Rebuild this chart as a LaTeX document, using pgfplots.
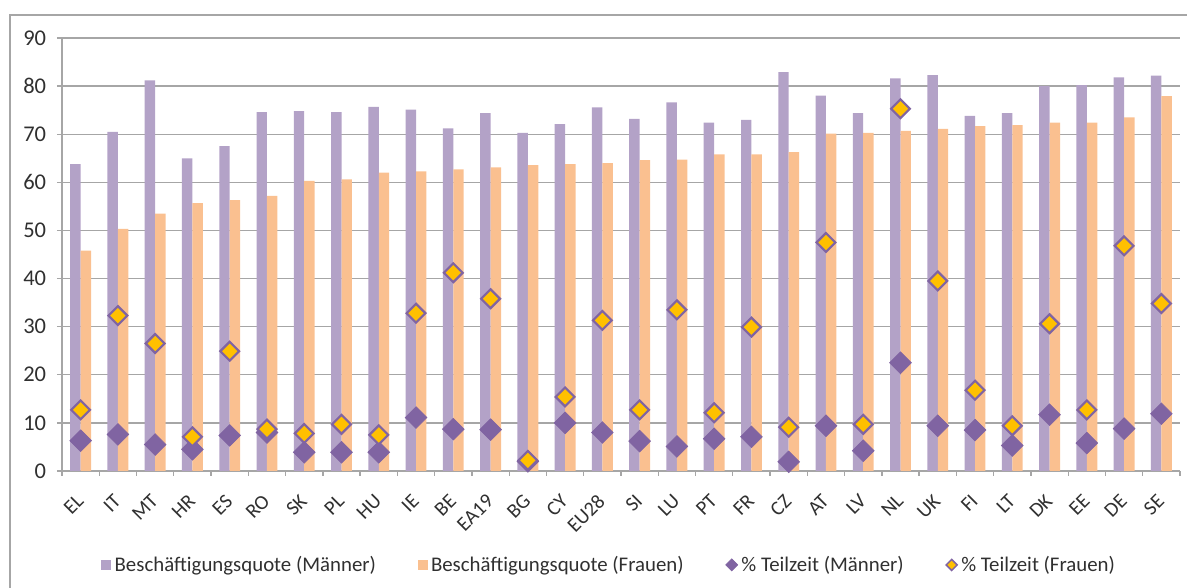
\documentclass[border=0pt]{standalone}
\usepackage{pgfplots}
\usepackage{pgfplotstable}
\pgfplotsset{compat=1.18}
\usepackage{fontspec}
\setmainfont{Carlito}
\usepackage{graphicx}

\definecolor{barM}{HTML}{B3A2C7}
\definecolor{barF}{HTML}{FAC090}
\definecolor{dmdM}{HTML}{8064A2}
\definecolor{dmdF}{HTML}{FFC000}
\definecolor{gridc}{HTML}{A6A6A6}
\definecolor{txt}{HTML}{303030}

\newcommand{\rl}[1]{\rotatebox{45}{#1}}

% x name men women ptm ptw
\pgfplotstableread{
x  name  men   women  ptm   ptw
0  EL    63.8  45.8   6.3   12.7
1  IT    70.5  50.3   7.6   32.3
2  MT    81.2  53.5   5.5   26.5
3  HR    65.0  55.7   4.5   7.1
4  ES    67.5  56.3   7.4   24.9
5  RO    74.6  57.2   8.0   8.7
6  SK    74.8  60.3   3.9   7.8
7  PL    74.6  60.6   3.9   9.7
8  HU    75.7  62.0   3.9   7.5
9  IE    75.1  62.3   11.1  32.8
10 BE    71.2  62.7   8.7   41.2
11 EA19  74.4  63.1   8.6   35.8
12 BG    70.3  63.6   2.0   2.2
13 CY    72.1  63.8   10.0  15.4
14 EU28  75.6  64.0   8.0   31.3
15 SI    73.2  64.6   6.2   12.7
16 LU    76.6  64.7   5.1   33.5
17 PT    72.4  65.8   6.7   12.1
18 FR    73.0  65.8   7.1   29.9
19 CZ    82.9  66.3   1.9   9.1
20 AT    78.0  70.1   9.4   47.5
21 LV    74.4  70.3   4.2   9.7
22 NL    81.6  70.7   22.5  75.3
23 UK    82.3  71.1   9.4   39.5
24 FI    73.8  71.7   8.5   16.8
25 LT    74.4  71.9   5.3   9.4
26 DK    80.0  72.4   11.7  30.6
27 EE    80.2  72.4   5.8   12.7
28 DE    81.8  73.5   8.8   46.8
29 SE    82.2  77.9   11.9  34.8
}\data

\begin{document}
\begin{tikzpicture}
\useasboundingbox (-37.2pt,-70.2pt) rectangle (675pt,282.6pt);
% outer frame (top and left edges visible)
\draw[gridc, line width=1.2pt] (-31.2pt,-80pt) -- (-31.2pt,273.6pt) -- (690pt,273.6pt);
\begin{axis}[
    name=ax,
    at={(0,0)}, anchor=south west,
    scale only axis,
    width=670.8pt, height=259.8pt,
    xmin=-0.5, xmax=29.5,
    ymin=0, ymax=90,
    ytick={0,10,...,90},
    xtick={0,...,29},
    xticklabels={\rl{EL},\rl{IT},\rl{MT},\rl{HR},\rl{ES},\rl{RO},\rl{SK},\rl{PL},
        \rl{HU},\rl{IE},\rl{BE},\rl{EA19},\rl{BG},\rl{CY},\rl{EU28},\rl{SI},
        \rl{LU},\rl{PT},\rl{FR},\rl{CZ},\rl{AT},\rl{LV},\rl{NL},\rl{UK},
        \rl{FI},\rl{LT},\rl{DK},\rl{EE},\rl{DE},\rl{SE}},
    minor xtick={-0.5,0.5,...,29.5},
    axis x line*=bottom,
    axis y line*=left,
    axis line style={gridc, line width=0.8pt, -},
    ymajorgrids,
    grid style={gridc, line width=0.8pt},
    major x tick style={draw=none},
    minor x tick style={gridc, line width=0.8pt},
    y tick style={gridc, line width=0.8pt},
    tick align=outside,
    major tick length=3pt,
    minor tick length=3pt,
    /pgf/number format/assume math mode=true,
    y tick label style={font=\fontsize{13.5}{15}\selectfont, text=txt, xshift=-3pt},
    x tick label style={font=\fontsize{12.2}{14}\selectfont, text=txt,
        anchor=north east, inner sep=0pt, xshift=2.6pt, yshift=-10.2pt},
    clip=false,
    legend style={at={(0.49,-0.217)}, anchor=center, draw=none, fill=none,
        legend columns=4, font=\fontsize{12.5}{14}\selectfont, text=txt,
        /tikz/every even column/.append style={column sep=23pt},
        cells={anchor=west}},
]
\addplot[ybar, bar width=0.28, bar shift=-0.14, fill=barM, draw=none,
    legend image code/.code={\fill[barM] (0pt,-3pt) rectangle (6pt,3pt);}]
    table[x=x, y=men] {\data};
\addlegendentry{Beschäftigungsquote (Männer)}
\addplot[ybar, bar width=0.28, bar shift=0.14, fill=barF, draw=none,
    legend image code/.code={\fill[barF] (0pt,-3pt) rectangle (6pt,3pt);}]
    table[x=x, y=women] {\data};
\addlegendentry{Beschäftigungsquote (Frauen)}
\addplot[only marks, mark=square*, mark size=4.6pt,
    mark options={rotate=45, fill=dmdM, draw=dmdM},
    legend image code/.code={\fill[dmdM] (0pt,0pt) -- (3.6pt,3.6pt)
        -- (7.2pt,0pt) -- (3.6pt,-3.6pt) -- cycle;}]
    table[x=x, y=ptm] {\data};
\addlegendentry{\% Teilzeit (Männer)}
\addplot[only marks, mark=square*, mark size=4.0pt,
    mark options={rotate=45, fill=dmdF, draw=dmdM, line width=1.3pt},
    legend image code/.code={\filldraw[fill=dmdF, draw=dmdM, line width=0.9pt]
        (0.5pt,0pt) -- (3.8pt,3.3pt) -- (7.1pt,0pt) -- (3.8pt,-3.3pt) -- cycle;}]
    table[x=x, y=ptw] {\data};
\addlegendentry{\% Teilzeit (Frauen)}
\end{axis}
\end{tikzpicture}
\end{document}
